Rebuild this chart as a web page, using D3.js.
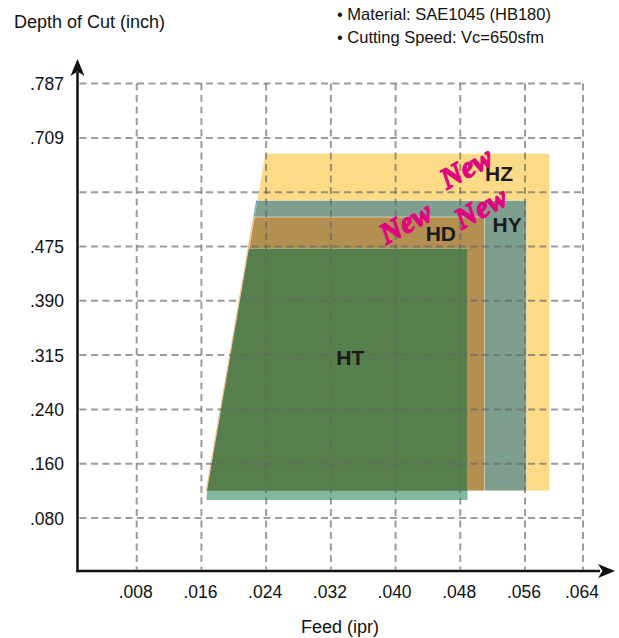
<!DOCTYPE html>
<html><head><meta charset="utf-8">
<script src="https://cdn.jsdelivr.net/npm/d3@7"></script>
<style>body{margin:0;background:#fff} svg{display:block}</style>
</head><body><svg id="c" width="619" height="638"></svg>
<script>
// ---- data ----
const feedTicks = [0.008,0.016,0.024,0.032,0.040,0.048,0.056,0.064];
const feedLabels = [".008",".016",".024",".032",".040",".048",".056",".064"];
const depthTicks = [0.080,0.160,0.240,0.315,0.390,0.475,0.591,0.709,0.787];
const depthLabels = [".080",".160",".240",".315",".390",".475","",".709",".787"];

const grades = ["HZ","HY","HD","HT"];
const gradeTop = [0.675,0.5735,0.538,0.4715];
const gradeBottom = [0.120,0.120,0.120,0.120];
const gradeRight = [0.0594,0.0562,0.0510,0.0489];
const gradeColors = ["#fddb86","#7e9e8e","#b38f52","#567f4b"];
const gradeLabelFeed = [0.0528,0.0538,0.0456,0.0344];
const gradeLabelDepth = [0.615,0.507,0.486,0.301];

// shared slanted lower-feed boundary
const slantFeed = [0.0239,0.0167];
const slantDepth = [0.675,0.120];
// HT base band
const baseBand = {top:0.120, bottom:0.1066, right:0.0489};

const newFeed = [0.0487,0.0505,0.0412];
const newDepth = [0.645,0.5585,0.5265];

const notes = ["\u2022 Material: SAE1045 (HB180)","\u2022 Cutting Speed: Vc=650sfm"];

// ---- layout ----
const svg = d3.select("#c");
const font = "'Liberation Sans', Arial, Helvetica, sans-serif";
const axisX = 77.5, axisY = 571;
const x = d3.scaleLinear().domain([0,0.056,0.064]).range([72,525,583]);
const yStep = 54.3, y0 = 518;
const y = d3.scaleLinear().domain(depthTicks).range(depthTicks.map((d,i)=>y0 - i*yStep));

const sx1 = x(slantFeed[0]), sy1 = y(slantDepth[0]), sx2 = x(slantFeed[1]), sy2 = y(slantDepth[1]);
const leftX = py => sx1 + (py - sy1)/(sy2 - sy1)*(sx2 - sx1);

// ---- shapes ----
const gShapes = svg.append("g");
grades.forEach((g,i)=>{
  const yt = y(gradeTop[i]), yb = y(gradeBottom[i]), xr = x(gradeRight[i]);
  const pts = [[leftX(yt),yt],[xr,yt],[xr,yb],[leftX(yb),yb]];
  gShapes.append("path").attr("d", d3.line()(pts)+"Z")
    .attr("fill", gradeColors[i]).attr("stroke","rgba(255,250,230,0.55)").attr("stroke-width",1);
  if (g==="HD") {
    gShapes.append("line").attr("x1",leftX(yt)-0.6).attr("y1",yt).attr("x2",leftX(yb)-0.6).attr("y2",yb)
      .attr("stroke","#f6b57c").attr("stroke-width",1.3);
  }
  if (g==="HY") {
    gShapes.append("line").attr("x1",leftX(yt)-0.4).attr("y1",yt).attr("x2",leftX(y(gradeTop[2]))-0.4).attr("y2",y(gradeTop[2]))
      .attr("stroke","#6a9cc8").attr("stroke-width",1.2);
  }
});
{
  const yt = y(baseBand.top), yb = y(baseBand.bottom), xr = x(baseBand.right);
  const pts = [[leftX(yt),yt],[xr,yt],[xr,yb],[leftX(yb)+1,yb]];
  gShapes.append("path").attr("d", d3.line()(pts)+"Z").attr("fill","#80b9a0");
}
{
  const i = 3, yt = y(gradeTop[i]), yb = y(gradeBottom[i]), xr = x(gradeRight[i]);
  gShapes.append("path").attr("d", d3.line()([[leftX(yt),yt],[xr,yt],[xr,yb],[leftX(yb),yb]])+"Z")
    .attr("fill", gradeColors[i]);
}

// ---- grid ----
const gGrid = svg.append("g").attr("stroke","#666").attr("stroke-opacity",0.65)
  .attr("stroke-width",2).attr("stroke-dasharray","7,4.5").attr("fill","none");
const gridTop = y(depthTicks[depthTicks.length-1]);
const gridRight = x(feedTicks[feedTicks.length-1]);
depthTicks.forEach(d=>{
  gGrid.append("line").attr("x1",axisX+2).attr("x2",gridRight).attr("y1",y(d)).attr("y2",y(d));
});
feedTicks.forEach(f=>{
  gGrid.append("line").attr("x1",x(f)).attr("x2",x(f)).attr("y1",gridTop).attr("y2",axisY-1.5);
});

// ---- axes ----
const gAx = svg.append("g");
gAx.append("line").attr("x1",axisX).attr("x2",axisX).attr("y1",axisY+1.2).attr("y2",72)
  .attr("stroke","#111").attr("stroke-width",2.5);
gAx.append("line").attr("x1",axisX-1.2).attr("x2",600).attr("y1",axisY).attr("y2",axisY)
  .attr("stroke","#111").attr("stroke-width",2.5);
gAx.append("path").attr("d","M0,0 L-7,17 L0,12.5 L7,17 Z").attr("fill","#111")
  .attr("transform",`translate(${axisX},59)`);
gAx.append("path").attr("d","M0,0 L-7,17 L0,12.5 L7,17 Z").attr("fill","#111")
  .attr("transform",`translate(615,${axisY}) rotate(90)`);

// tick labels
svg.append("g").selectAll("text").data(depthTicks).join("text")
  .attr("x",64).attr("y",d=>y(d)+6.5).attr("text-anchor","end")
  .attr("font-family",font).attr("font-size",17.5).attr("fill","#111")
  .text((d,i)=>depthLabels[i]);
svg.append("g").selectAll("text").data(feedTicks).join("text")
  .attr("x",d=>x(d)-1).attr("y",598).attr("text-anchor","middle")
  .attr("font-family",font).attr("font-size",17.5).attr("fill","#111")
  .text((d,i)=>feedLabels[i]);

// axis titles
svg.append("text").attr("x",14).attr("y",28).attr("font-family",font).attr("font-size",18)
  .attr("fill","#111").text("Depth of Cut (inch)");
svg.append("text").attr("x",340).attr("y",633).attr("text-anchor","middle").attr("font-family",font)
  .attr("font-size",18).attr("fill","#111").text("Feed (ipr)");

// notes
svg.append("g").selectAll("text").data(notes).join("text")
  .attr("x",337).attr("y",(d,i)=>20+i*23).attr("font-family",font).attr("font-size",16.5)
  .attr("fill","#111").text(d=>d);

// grade labels
svg.append("g").selectAll("text").data(grades).join("text")
  .attr("x",(d,i)=>x(gradeLabelFeed[i])).attr("y",(d,i)=>y(gradeLabelDepth[i]))
  .attr("text-anchor","middle").attr("font-family",font).attr("font-weight","bold")
  .attr("font-size",21).attr("fill","#1a1a1a").text(d=>d);

// "New" badges
svg.append("g").selectAll("text").data(newFeed).join("text")
  .attr("transform",(d,i)=>`translate(${x(d)},${y(newDepth[i])}) rotate(-29)`)
  .attr("text-anchor","middle").attr("dy","0.35em")
  .attr("font-family","'Liberation Serif','Times New Roman',serif").attr("font-weight","bold")
  .attr("font-style","italic").attr("font-size",30).attr("fill","#e0067f")
  .attr("stroke","#e0067f").attr("stroke-width",1.3).attr("stroke-linejoin","round").text("New");
</script></body></html>
